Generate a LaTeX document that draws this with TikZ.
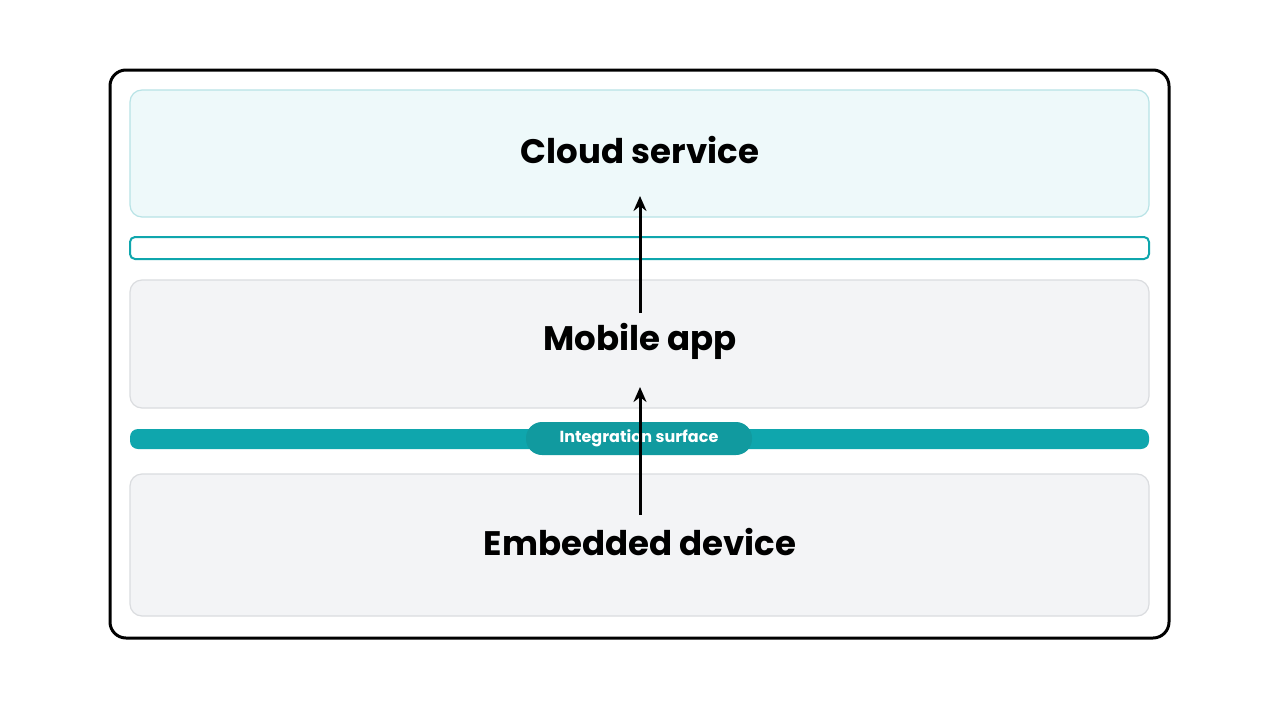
\documentclass[tikz,border=0pt]{standalone}
\usepackage{fontspec}
\setmainfont{Poppins}
\usetikzlibrary{arrows.meta}
\definecolor{tealbar}{HTML}{0FA6AD}
\definecolor{tealpill}{HTML}{119A9F}
\definecolor{cloudfill}{HTML}{EEF9FA}
\definecolor{cloudline}{HTML}{B8E3E6}
\definecolor{layerfill}{HTML}{F3F4F6}
\definecolor{layerline}{HTML}{DADCDF}
\tikzset{
  layerbox/.style={draw=layerline, fill=layerfill, line width=1.2pt, rounded corners=12pt},
  layertext/.style={font=\fontsize{34}{40}\selectfont\bfseries, text=black},
  flow/.style={-{Stealth[length=15pt,width=13pt]}, line width=3pt, black}
}
\begin{document}
\begin{tikzpicture}[x=1pt,y=-1pt]
  \useasboundingbox (0,0) rectangle (1279,720);
  \fill[white] (0,0) rectangle (1279,720);
  % outer frame
  \draw[line width=3pt, rounded corners=16pt] (110,70) rectangle (1169,638);
  % layers
  \draw[layerbox, draw=cloudline, fill=cloudfill] (130,90) rectangle (1149,217);
  \draw[draw=tealbar, fill=white, line width=2pt, rounded corners=5pt] (130,237) rectangle (1149,259);
  \draw[layerbox] (130,280) rectangle (1149,408);
  \fill[tealbar, rounded corners=8pt] (130,429) rectangle (1149,449);
  \draw[layerbox] (130,474) rectangle (1149,616);
  % text nodes
  \node[layertext] (cloud) at (640,150) {Cloud service};
  \node[layertext] (mobile) at (640,341) {Mobile app};
  \node[layertext] (device) at (640,542) {Embedded device};
  \node[fill=tealpill, text=white, rounded corners=16pt, minimum width=226pt, minimum height=33pt,
        font=\fontsize{16}{19}\selectfont\bfseries] (surface) at (639,438.5) {Integration surface};
  % arrows
  \coordinate (mobiletop) at (640,313);
  \coordinate (cloudbottom) at (640,196);
  \coordinate (devicetop) at (640,515);
  \coordinate (mobilebottom) at (640,387);
  \draw[flow] (mobiletop) -- (cloudbottom);
  \draw[flow] (devicetop) -- (mobilebottom);
\end{tikzpicture}
\end{document}
